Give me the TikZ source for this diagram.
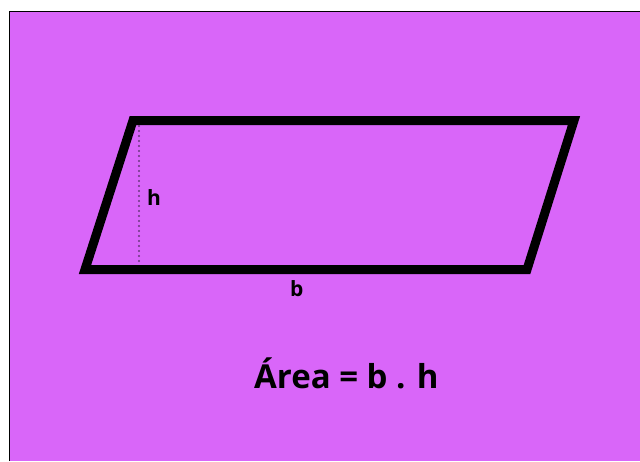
\documentclass[tikz,border=0pt]{standalone}
\usepackage{fontspec}
\setmainfont{Open Sans}
\definecolor{fondo}{RGB}{217,102,249}
\definecolor{puntos}{RGB}{105,55,125}
\tikzset{
  borde/.style={line width=9pt, line join=miter},
  altura/.style={puntos, line width=2.2pt, line cap=round, dash pattern=on 0pt off 5pt},
  etiq/.style={font=\fontsize{21}{21}\selectfont\bfseries, inner sep=0pt, anchor=base west},
  formula/.style={font=\fontsize{33}{33}\selectfont\bfseries, inner sep=0pt, anchor=base west}
}

\begin{document}
\begin{tikzpicture}[x=1pt,y=-1pt]
\useasboundingbox (0,0) rectangle (640,461);
\fill[white] (0,0) rectangle (640,461);
\fill[fondo] (9,11) rectangle (640,461);
\draw[thin] (9,461) -- (9,11) -- (640,11);

% paralelogramo
\coordinate (ii) at (85,269.5);
\coordinate (id) at (527,269.5);
\coordinate (sd) at (574,120.5);
\coordinate (si) at (133,120.5);
\draw[borde] (ii) -- (id) -- (sd) -- (si) -- cycle;

% altura
\coordinate (tope) at (139,126);
\coordinate (pie) at (139,264);
\draw[altura] (tope) -- (pie);

\node[etiq] (h) at (147,205) {h};
\node[etiq] (b) at (290,296) {b};
\node[formula] (area) at (254,388) {Área = b . h};
\end{tikzpicture}
\end{document}
